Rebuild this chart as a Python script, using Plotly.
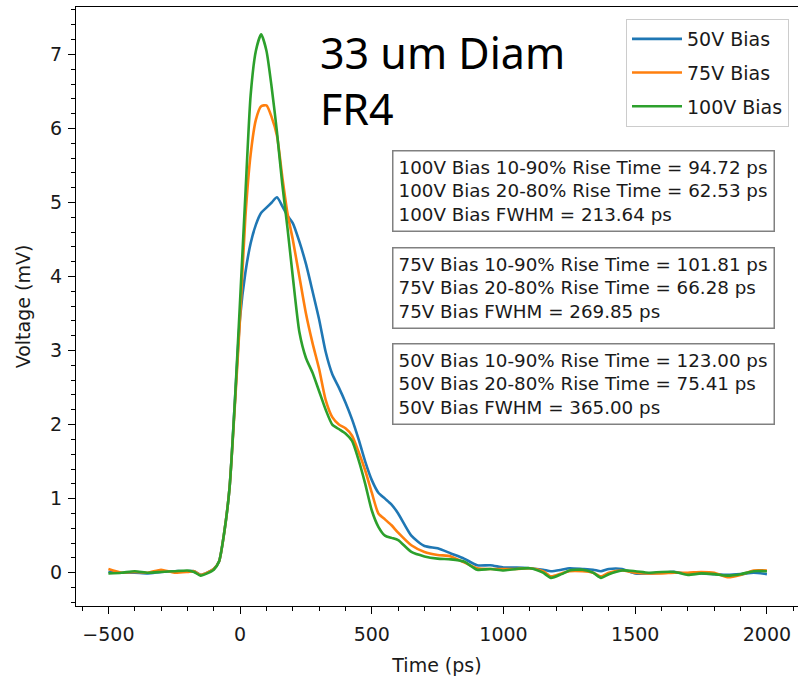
import plotly.graph_objects as go

# ---- data ----
time_ps = [-500, -450, -400, -350, -300, -250, -200, -175, -150, -125, -100, -80, -60, -40, -20,
           0, 20, 40, 60, 80, 100, 120, 140, 160, 180, 200, 225, 250, 275, 300, 325, 350, 375,
           400, 425, 450, 475, 500, 525, 550, 575, 600, 650, 700, 750, 800, 850, 900, 950,
           1000, 1050, 1100, 1150, 1180, 1220, 1250, 1300, 1340, 1370, 1400, 1450, 1500, 1550,
           1600, 1650, 1700, 1750, 1800, 1850, 1900, 1950, 2000]

v_50 = [0.01, 0.0, 0.0, -0.01, 0.01, 0.02, 0.02, 0.02, -0.03, 0.0, 0.05, 0.15, 0.55, 1.15, 2.3,
        3.45, 4.05, 4.45, 4.7, 4.86, 4.93, 5.0, 5.07, 4.95, 4.82, 4.72, 4.47, 4.17, 3.8, 3.42,
        2.98, 2.68, 2.5, 2.3, 2.07, 1.8, 1.5, 1.25, 1.08, 1.0, 0.92, 0.8, 0.5, 0.36, 0.33, 0.26,
        0.19, 0.1, 0.1, 0.07, 0.07, 0.06, 0.04, 0.02, 0.04, 0.06, 0.05, 0.04, 0.02, 0.05, 0.05,
        -0.01, -0.01, 0.0, 0.01, -0.02, -0.01, -0.02, -0.03, -0.02, 0.0, -0.02]

v_75 = [0.05, 0.0, 0.01, 0.0, 0.04, 0.0, 0.01, 0.02, -0.03, 0.0, 0.05, 0.15, 0.55, 1.15, 2.25,
        3.45, 4.8, 5.65, 6.12, 6.3, 6.31, 6.15, 5.9, 5.35, 4.85, 4.5, 4.0, 3.5, 3.1, 2.75, 2.33,
        2.1, 2.0, 1.95, 1.85, 1.63, 1.38, 1.08, 0.8, 0.72, 0.64, 0.54, 0.37, 0.28, 0.24, 0.22,
        0.14, 0.06, 0.05, 0.05, 0.05, 0.06, 0.02, -0.05, -0.01, 0.02, 0.02, 0.0, -0.05, 0.0,
        0.03, 0.0, -0.01, -0.01, 0.0, 0.0, 0.01, 0.0, -0.06, -0.03, 0.03, 0.03]

v_100 = [-0.01, 0.0, 0.02, 0.0, 0.01, 0.02, 0.03, 0.01, -0.04, -0.01, 0.04, 0.15, 0.55, 1.15,
         2.3, 3.68, 5.1, 6.45, 7.05, 7.27, 7.05, 6.55, 5.95, 5.25, 4.65, 4.0, 3.25, 2.9, 2.7,
         2.45, 2.2, 2.0, 1.94, 1.88, 1.78, 1.52, 1.2, 0.84, 0.62, 0.5, 0.47, 0.44, 0.28, 0.22,
         0.19, 0.18, 0.15, 0.04, 0.05, 0.03, 0.05, 0.06, 0.0, -0.07, -0.02, 0.03, 0.04, 0.0,
         -0.07, -0.02, 0.03, 0.02, 0.0, 0.01, 0.01, -0.03, -0.01, -0.02, -0.04, -0.02, 0.02, 0.02]

series_names = ["50V Bias", "75V Bias", "100V Bias"]
series_values = [v_50, v_75, v_100]
series_colors = ["#1f77b4", "#ff7f0e", "#2ca02c"]

box_texts = [
    ["100V Bias 10-90% Rise Time = 94.72 ps",
     "100V Bias 20-80% Rise Time = 62.53 ps",
     "100V Bias FWHM = 213.64 ps"],
    ["75V Bias 10-90% Rise Time = 101.81 ps",
     "75V Bias 20-80% Rise Time = 66.28 ps",
     "75V Bias FWHM = 269.85 ps"],
    ["50V Bias 10-90% Rise Time = 123.00 ps",
     "50V Bias 20-80% Rise Time = 75.41 ps",
     "50V Bias FWHM = 365.00 ps"],
]
title_lines = ["33 um Diam", "FR4"]

x_ticks = [-500, 0, 500, 1000, 1500, 2000]
y_ticks = [0, 1, 2, 3, 4, 5, 6, 7]

FONT = "DejaVu Sans"
TXT = "#1a1a1a"

fig = go.Figure()
for i, (name, vals, col) in enumerate(zip(series_names, series_values, series_colors)):
    fig.add_trace(go.Scatter(
        x=time_ps, y=vals, name=name, mode="lines",
        line=dict(color=col, width=2.6, shape="spline", smoothing=0.6),
        legendgroup=name,
    ))

W, H = 798, 678
L, R, T, B = 76, 0, 7, 72
pw, ph = W - L - R, H - T - B


def px_x(px):
    return (px - L) / pw


def px_y(py):
    return (H - B - py) / ph


box_tops = [150, 247, 343]
for lines, top in zip(box_texts, box_tops):
    fig.add_annotation(
        xref="paper", yref="paper", x=px_x(392), y=px_y(top),
        xanchor="left", yanchor="top", showarrow=False, align="left",
        text="<br>".join(lines),
        font=dict(family=FONT, size=18.3, color=TXT),
        bordercolor="#808080", borderwidth=1.5, borderpad=5,
        bgcolor="white", width=370,
    )

fig.add_annotation(
    xref="paper", yref="paper", x=px_x(318), y=px_y(21),
    xanchor="left", yanchor="top", showarrow=False, align="left",
    text="<br>".join(title_lines),
    font=dict(family="Noto Sans", size=43, color="black"),
)

axis_common = dict(
    showline=True, linecolor="black", linewidth=1.4,
    ticks="outside", ticklen=7, tickwidth=1.4, tickcolor="black",
    showgrid=False, zeroline=False, automargin=False,
    tickfont=dict(family=FONT, size=19, color=TXT),
)

fig.update_layout(
    width=W, height=H,
    margin=dict(l=L, r=R, t=T, b=B, pad=0, autoexpand=False),
    paper_bgcolor="white", plot_bgcolor="white",
    showlegend=True,
    legend=dict(
        x=px_x(789), y=px_y(19), xanchor="right", yanchor="top",
        bgcolor="rgba(255,255,255,0.8)", bordercolor="#cccccc", borderwidth=1,
        font=dict(family=FONT, size=19, color=TXT),
        tracegroupgap=6, itemwidth=50,
    ),
    xaxis=dict(
        range=[-623, 2118], tickvals=x_ticks, mirror=True, ticklabelstandoff=4,
        minor=dict(dtick=100, tick0=0, ticks="outside", ticklen=4, tickwidth=1.2, tickcolor="black"),
        title=dict(text="Time (ps)", font=dict(family=FONT, size=19, color=TXT), standoff=14),
        **axis_common,
    ),
    yaxis=dict(
        range=[-0.45, 7.64], tickvals=y_ticks, ticklabelstandoff=2,
        minor=dict(dtick=0.2, tick0=0, ticks="outside", ticklen=4, tickwidth=1.2, tickcolor="black"),
        title=dict(text="Voltage (mV)", font=dict(family=FONT, size=19, color=TXT), standoff=14),
        **axis_common,
    ),
)

fig.write_html("out.html", config={"displayModeBar": False},
               post_script="document.body.style.margin='0px';")
